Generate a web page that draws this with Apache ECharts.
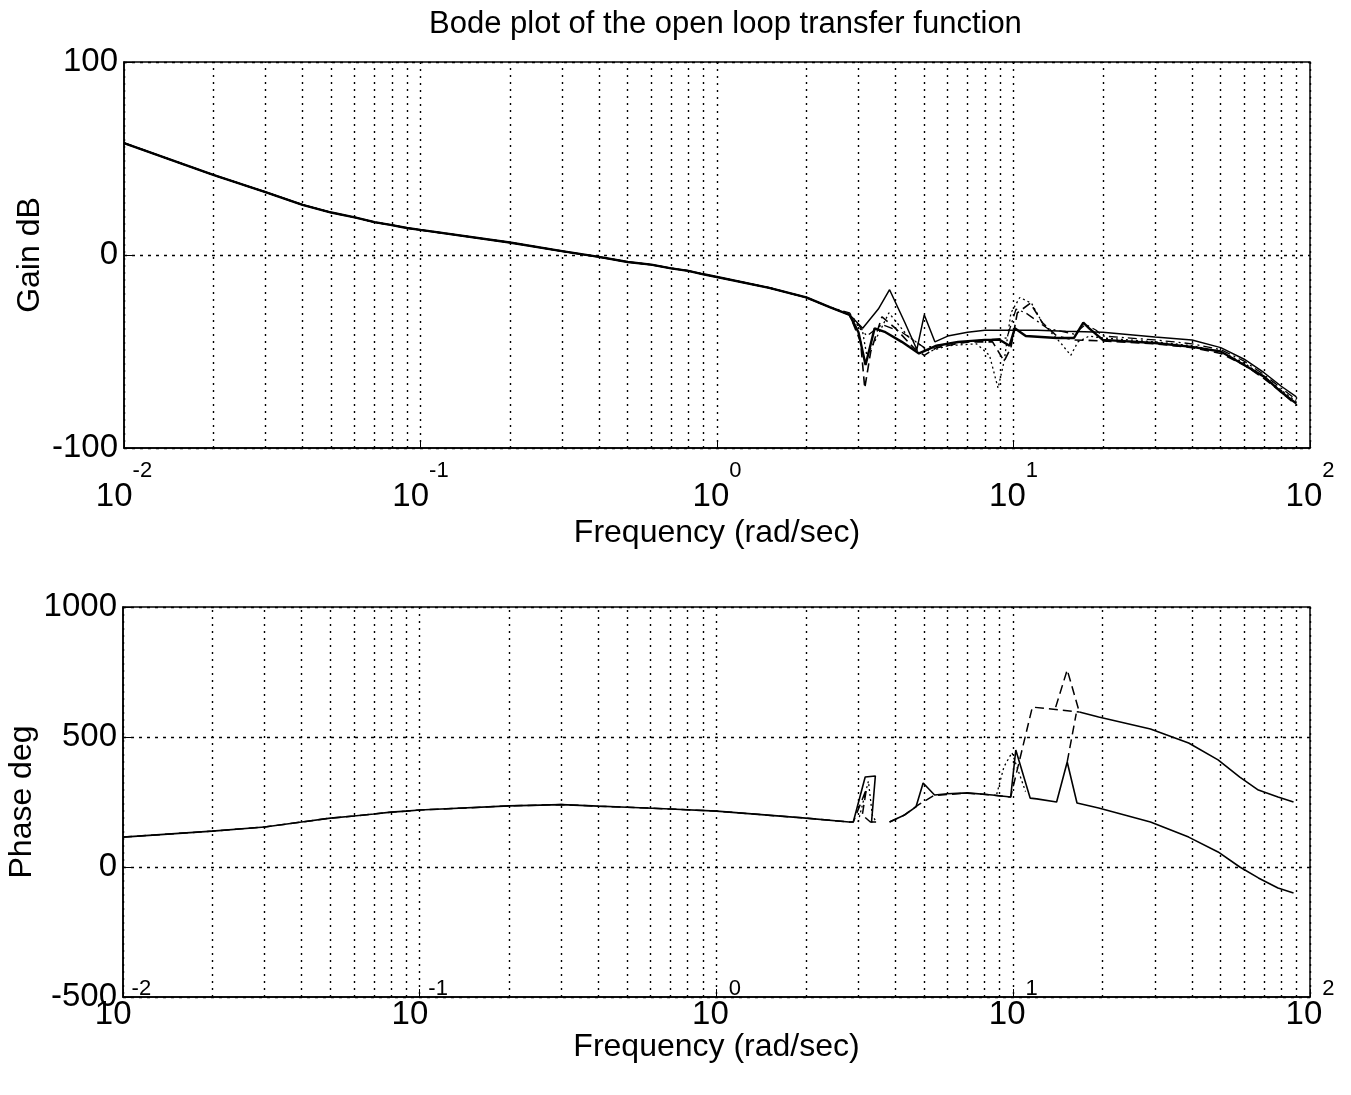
<!DOCTYPE html>
<html>
<head>
<meta charset="utf-8">
<script src="https://cdn.jsdelivr.net/npm/echarts@6/dist/echarts.min.js"></script>
<style>html,body{margin:0;padding:0;background:#fff}#c{width:1351px;height:1095px}</style>
</head>
<body>
<div id="c"></div>
<script>
// ---------- data ----------
const titleText = 'Bode plot of the open loop transfer function';
const xName = 'Frequency (rad/sec)';
const gainName = 'Gain dB';
const phaseName = 'Phase deg';
const gainTicks = [-100, 0, 100];
const phaseTicks = [-500, 0, 500, 1000];
const minorFreqs = [0.02,0.03,0.04,0.05,0.06,0.07,0.08,0.09,0.2,0.3,0.4,0.5,0.6,0.7,0.8,0.9,2,3,4,5,6,7,8,9,20,30,40,50,60,70,80,90];

// shared low-frequency part of the gain curves
const gainLowFreq = [0.01,0.02,0.03,0.04,0.05,0.06,0.07,0.08,0.09,0.1,0.2,0.3,0.4,0.5,0.6,0.7,0.8,0.9,1,1.5,2,2.4];
const gainLowVals = [58,41.5,32.6,26,22,19.5,17,15.5,14,13,6.5,2,-1,-3.6,-5,-6.9,-8.2,-10,-11.4,-17,-22,-27];

const gainSolidAFreq = [2.8,3.1,3.5,3.82,4.3,4.72,5.0,5.43,6,7,8,10,12,15,20,30,40,50,60,70,80,90];
const gainSolidAVals = [-31,-38,-28,-18,-35,-49,-31,-45,-42,-40,-39,-39,-39,-39.5,-40,-42.5,-44,-48,-54,-61,-68,-73.5];

const gainSolidBFreq = [2.8,3.0,3.17,3.4,3.7,4.2,4.8,5.5,6.5,8,9,9.7,10.1,11,14,16,17.2,18,20,30,40,50,60,70,80,90];
const gainSolidBVals = [-31,-40,-57,-38,-40,-45,-51,-47,-45,-44,-44,-47,-38,-42,-43,-43,-35,-38,-44,-45.6,-47.6,-50,-57,-63,-71,-77];

const gainDashFreq = [2.8,3.05,3.15,3.3,3.6,4.0,4.6,5.0,5.5,7,8.5,9.3,9.8,10.3,11.4,12.5,14,16,20,30,40,50,60,70,80,90];
const gainDashVals = [-31,-45,-69,-50,-32,-38,-48,-52,-48,-45,-45,-55,-48,-30,-25,-35,-42,-44,-44.5,-46,-48,-51,-57,-64,-71,-78];

const gainDotFreq = [2.8,3.1,3.2,3.4,3.8,4.4,5.2,6,7.5,8.3,8.87,9.3,9.8,10.5,11.5,12.5,14.5,15.6,16.5,18,20,30,40,50,60,70,80,90];
const gainDotVals = [-31,-40,-52,-45,-30,-42,-50,-47,-46,-52,-69,-55,-30,-22,-25,-35,-46,-52,-45,-42,-43,-45,-47,-50,-56,-63,-70,-76];

const gainDashDotFreq = [2.8,3.2,3.6,4.2,5,6,8,9.5,10.2,11,13,16,17.5,19,20,30,40,50,60,70,80,90];
const gainDashDotVals = [-30,-42,-36,-40,-48,-46,-44,-43,-28,-30,-38,-41,-36,-39,-42,-44,-46,-49,-55,-62,-69,-75];

// shared low-frequency part of the phase curves
const phaseLowFreq = [0.01,0.02,0.03,0.04,0.05,0.06,0.07,0.08,0.09,0.1,0.2,0.3,0.4,0.5,0.7,1,2,2.8];
const phaseLowVals = [115,138,154,173,188,196,204,211,215,219,235,240,234,230,223,215,188,173];

const phaseSolidFreq = [2.89,3.17,3.43,3.33,3.45,3.6,3.83,4.3,4.7,4.97,5.43,6,7,8.5,9.8,10.2,11.4,12,14,15.2,16.4,19.4,29,39,49,58,67,78,88];
const phaseSolidVals = [173,346,350,173,173,null,173,200,231,323,277,282,285,277,269,450,265,262,250,404,246,227,173,115,58,0,-42,-81,-100];

const phaseUpperFreq = [16.7,19.4,29,39,49,58,67,78,88];
const phaseUpperVals = [596,577,531,477,412,346,296,269,250];

const phaseDashFreq = [2.89,3.2,3.1,3.3,3.45,3.6,3.83,4.3,4.8,5.4,7,8.5,9.8,11.6,16.7];
const phaseDashVals = [173,300,200,173,173,null,173,200,240,275,284,277,269,615,596];

const phaseDashSpikeFreq = [13.9,15.2,16.7,16.9,15.2,16.3];
const phaseDashSpikeVals = [615,758,596,null,404,590];

const phaseDotFreq = [3.0,3.25,3.35,3.45,3.6,8.8,9.3,9.9,11.0];
const phaseDotVals = [173,330,200,173,null,280,385,440,290];

// ---------- build ----------
const FONT = 'Liberation Sans, Arial, sans-serif';
function pairs(fs, vs) { return fs.map((f, i) => [f, vs[i] === null ? '-' : vs[i]]); }
function withLow(lf, lv, fs, vs) { return pairs(lf.concat(fs), lv.concat(vs)); }
const BLACK = '#000';
const gridLine = { type: [2, 5], color: BLACK, width: 1.4 };

function xLabelFmt(v) {
  const e = Math.round(Math.log10(v));
  return '{b|10}{e|' + e + '}';
}
function xAxisCfg(idx, margin, nameGap) {
  return {
    type: 'log', logBase: 10, min: 0.01, max: 100, interval: 1, gridIndex: idx,
    axisLine: { show: true, onZero: false, lineStyle: { color: BLACK, width: 1.5 } },
    axisTick: { show: true, inside: true, length: 8, lineStyle: { color: BLACK } },
    minorTick: { show: false },
    splitLine: { show: true, lineStyle: gridLine },
    axisLabel: {
      formatter: xLabelFmt, margin: margin, color: BLACK,
      rich: {
        b: { fontSize: 33, fontFamily: FONT, color: BLACK, padding: [26, 0, 0, 0] },
        e: { fontSize: 22, fontFamily: FONT, color: BLACK, padding: [0, 0, 26, 0] }
      }
    },
    name: xName, nameLocation: 'middle', nameGap: nameGap, nameMoveOverlap: false,
    nameTextStyle: { fontSize: 32, fontFamily: FONT, color: BLACK }
  };
}
function yAxisCfg(idx, min, max, interval, name, nameGap) {
  return {
    type: 'value', min: min, max: max, interval: interval, gridIndex: idx,
    axisLine: { show: true, onZero: false, lineStyle: { color: BLACK, width: 1.5 } },
    axisTick: { show: true, inside: true, length: 8, lineStyle: { color: BLACK } },
    splitLine: { show: true, lineStyle: { type: [3, 5], color: BLACK, width: 1.4 } },
    axisLabel: { fontSize: 33, fontFamily: FONT, color: BLACK, margin: 6, formatter: v => String(v) },
    name: name, nameLocation: 'middle', nameGap: nameGap, nameRotate: 90, nameMoveOverlap: false,
    nameTextStyle: { fontSize: 32, fontFamily: FONT, color: BLACK }
  };
}
function minorLines() {
  return {
    silent: true, symbol: 'none', label: { show: false }, animation: false,
    lineStyle: gridLine,
    data: minorFreqs.map(f => ({ xAxis: f }))
  };
}
function line(idx, data, type, width, extra) {
  const s = {
    type: 'line', xAxisIndex: idx, yAxisIndex: idx, data: data,
    showSymbol: false, symbol: 'none', connectNulls: false, animation: false,
    lineStyle: { color: BLACK, width: width, type: type }, z: 5
  };
  return Object.assign(s, extra || {});
}

const series = [
  line(0, withLow(gainLowFreq, gainLowVals, gainDotFreq, gainDotVals), [2, 3], 1.3, { markLine: minorLines() }),
  line(0, withLow(gainLowFreq, gainLowVals, gainDashDotFreq, gainDashDotVals), [9, 4, 2, 4], 1.3),
  line(0, withLow(gainLowFreq, gainLowVals, gainDashFreq, gainDashVals), [9, 5], 1.6),
  line(0, withLow(gainLowFreq, gainLowVals, gainSolidBFreq, gainSolidBVals), 'solid', 2.4),
  line(0, withLow(gainLowFreq, gainLowVals, gainSolidAFreq, gainSolidAVals), 'solid', 1.5),

  line(1, pairs(phaseDotFreq, phaseDotVals), [2, 3], 1.3, { markLine: minorLines() }),
  line(1, withLow(phaseLowFreq, phaseLowVals, phaseDashFreq, phaseDashVals), [9, 5], 1.5),
  line(1, pairs(phaseDashSpikeFreq, phaseDashSpikeVals), [9, 5], 1.5),
  line(1, withLow(phaseLowFreq, phaseLowVals, phaseSolidFreq, phaseSolidVals), 'solid', 1.6),
  line(1, pairs(phaseUpperFreq, phaseUpperVals), 'solid', 1.6)
];

const chart = echarts.init(document.getElementById('c'), null, { renderer: 'canvas' });
chart.setOption({
  backgroundColor: '#fff',
  animation: false,
  title: {
    text: titleText, left: 424, top: 4,
    textStyle: { fontSize: 31, fontWeight: 'normal', fontFamily: FONT, color: BLACK }
  },
  grid: [
    { left: 124, right: 41, top: 62, height: 386, show: true, borderColor: BLACK, borderWidth: 1.5, backgroundColor: 'transparent', containLabel: false, outerBoundsMode: 'none' },
    { left: 123, right: 41, top: 607, height: 390, show: true, borderColor: BLACK, borderWidth: 1.5, backgroundColor: 'transparent', containLabel: false, outerBoundsMode: 'none' }
  ],
  xAxis: [xAxisCfg(0, 6, 69), xAxisCfg(1, -25, 34)],
  yAxis: [yAxisCfg(0, gainTicks[0], gainTicks[2], 100, gainName, 78), yAxisCfg(1, phaseTicks[0], phaseTicks[3], 500, phaseName, 85)],
  series: series
});
</script>
</body>
</html>
